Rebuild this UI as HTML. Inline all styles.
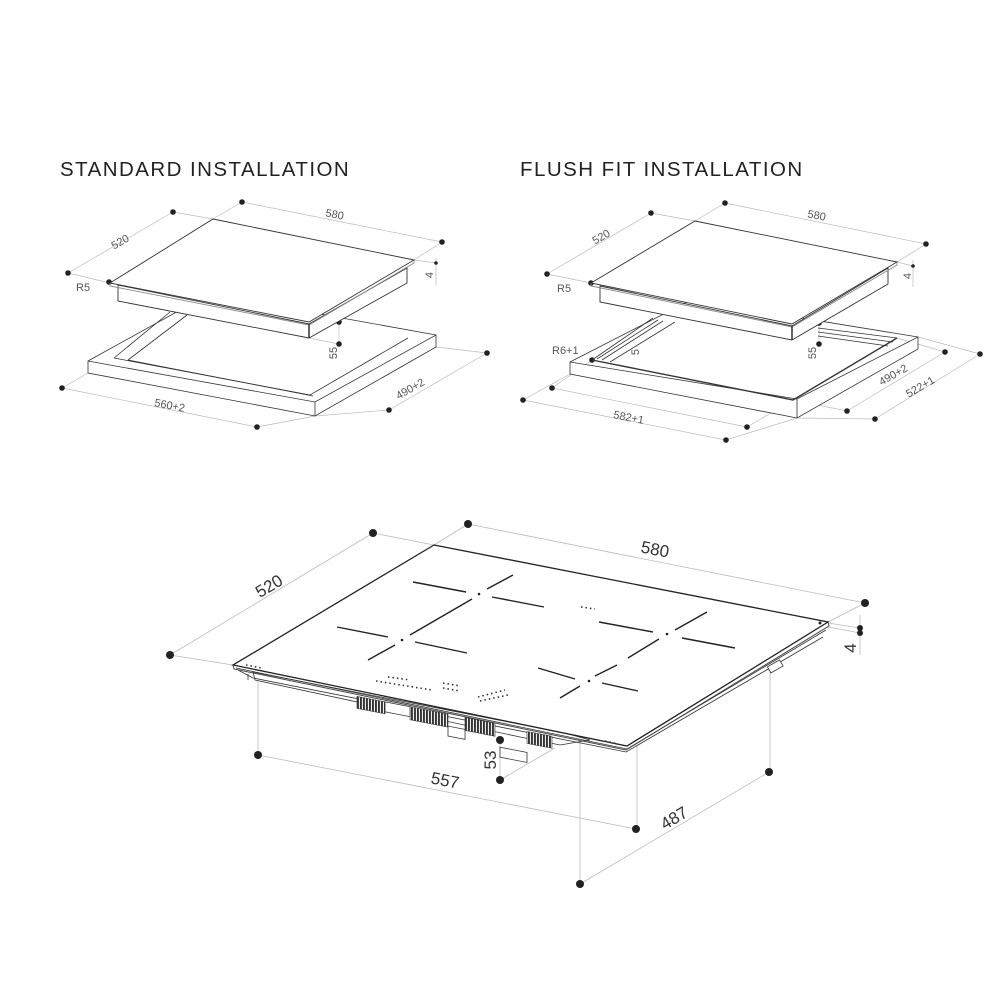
<!DOCTYPE html>
<html><head><meta charset="utf-8"><style>
html,body{margin:0;padding:0;background:#fff;}
svg{display:block;}
.t{font-family:"Liberation Sans",sans-serif;}
</style></head><body>
<svg width="1000" height="1000" viewBox="0 0 1000 1000" xmlns="http://www.w3.org/2000/svg">
<defs>
<pattern id="vent" width="3" height="20" patternUnits="userSpaceOnUse">
<rect width="3" height="20" fill="#fff"/><rect width="2" height="20" fill="#333"/>
</pattern>
</defs>
<rect width="1000" height="1000" fill="#fff"/>
<text x="60" y="176" class="t" font-size="20.5" fill="#222" letter-spacing="1.45">STANDARD INSTALLATION</text>
<text x="520" y="176" class="t" font-size="20.5" fill="#222" letter-spacing="1.45">FLUSH FIT INSTALLATION</text>

<!-- ============ STANDARD ============ -->
<g stroke="#bbb" stroke-width="0.7" fill="none">
<line x1="68" y1="273" x2="173" y2="212"/><line x1="110" y1="283" x2="68" y2="273"/><line x1="213" y1="219" x2="173" y2="212"/>
<line x1="242" y1="202" x2="442" y2="242"/><line x1="213" y1="219" x2="242" y2="202"/><line x1="414" y1="260" x2="442" y2="242"/>
<line x1="414" y1="260" x2="436" y2="263"/><line x1="436" y1="258" x2="436" y2="285"/>
<line x1="62" y1="388" x2="257" y2="427"/><line x1="88" y1="373" x2="62" y2="388"/><line x1="315" y1="416" x2="257" y2="427"/>
<line x1="389" y1="410" x2="487" y2="353"/><line x1="315" y1="416" x2="389" y2="410"/><line x1="436" y1="347" x2="487" y2="353"/>
<line x1="339" y1="322" x2="339" y2="344"/><line x1="309" y1="338" x2="339" y2="344"/>
</g>
<g fill="#222">
<circle cx="68" cy="273" r="2.8"/><circle cx="173" cy="212" r="2.8"/><circle cx="242" cy="202" r="2.8"/><circle cx="442" cy="242" r="2.8"/>
<circle cx="109" cy="282" r="2.8"/><circle cx="436" cy="263" r="1.8"/><circle cx="339" cy="322" r="2.8"/><circle cx="339" cy="344" r="2.8"/>
<circle cx="62" cy="388" r="2.8"/><circle cx="257" cy="427" r="2.8"/><circle cx="389" cy="410" r="2.8"/><circle cx="487" cy="353" r="2.8"/>
</g>
<g stroke="#333" stroke-width="0.8" fill="#fff">
<polygon points="88,361 315,402 436,335 436,347 315,416 88,373"/>
<line x1="88" y1="361" x2="209" y2="294"/><line x1="209" y1="294" x2="436" y2="335"/>
<polyline points="114,358 310,395 408,338" fill="none"/>
<polyline points="128,360 313,396" fill="none"/>
<line x1="114" y1="358" x2="170" y2="312"/><line x1="128" y1="360" x2="187" y2="315"/>
<line x1="315" y1="402" x2="315" y2="416"/>
</g>
<g stroke="#333" stroke-width="0.9" fill="#fff">
<polygon points="118,285 309,324 407,268 407,283 309,338 118,301"/>
<polygon points="213,219 414,260 309,322 110,283"/>
<polyline points="110,283 110,286 309,325 414,263 414,260" fill="none" stroke="#888"/>
<line x1="309" y1="324" x2="309" y2="338" stroke-width="1.5"/>
</g>
<g class="t" font-size="11" fill="#555">
<text x="0" y="0" transform="translate(122,245) rotate(-30)" text-anchor="middle">520</text>
<text x="0" y="0" transform="translate(334,218) rotate(11)" text-anchor="middle">580</text>
<text x="0" y="0" transform="translate(433,275) rotate(-90)" text-anchor="middle">4</text>
<text x="76" y="291">R5</text>
<text x="0" y="0" transform="translate(337,353) rotate(-90)" text-anchor="middle">55</text>
<text x="0" y="0" transform="translate(169,409) rotate(11)" text-anchor="middle">560+2</text>
<text x="0" y="0" transform="translate(412,392) rotate(-30)" text-anchor="middle">490+2</text>
</g>

<!-- ============ FLUSH ============ -->
<g stroke="#bbb" stroke-width="0.7" fill="none">
<line x1="547" y1="274" x2="651" y2="213"/><line x1="591" y1="283" x2="547" y2="274"/><line x1="695" y1="221" x2="651" y2="213"/>
<line x1="725" y1="203" x2="926" y2="244"/><line x1="695" y1="221" x2="725" y2="203"/><line x1="897" y1="262" x2="926" y2="244"/>
<line x1="897" y1="262" x2="913" y2="266"/><line x1="913" y1="260" x2="913" y2="287"/>
<line x1="523" y1="400" x2="726" y2="440"/><line x1="570" y1="374" x2="523" y2="400"/><line x1="797" y1="418" x2="726" y2="440"/>
<line x1="552" y1="388" x2="747" y2="427"/><line x1="592" y1="360" x2="552" y2="388"/><line x1="793" y1="400" x2="747" y2="427"/>
<line x1="847" y1="411" x2="945" y2="352"/><line x1="793" y1="400" x2="847" y2="411"/><line x1="897" y1="338" x2="945" y2="352"/>
<line x1="875" y1="419" x2="980" y2="354"/><line x1="797" y1="418" x2="875" y2="419"/><line x1="918" y1="337" x2="980" y2="354"/>
<line x1="819" y1="323" x2="819" y2="344"/>
</g>
<g fill="#222">
<circle cx="547" cy="274" r="2.8"/><circle cx="651" cy="213" r="2.8"/><circle cx="725" cy="203" r="2.8"/><circle cx="926" cy="244" r="2.8"/>
<circle cx="591" cy="283" r="2.8"/><circle cx="913" cy="266" r="1.8"/><circle cx="819" cy="323" r="2.8"/><circle cx="819" cy="344" r="2.8"/>
<circle cx="592" cy="360" r="2.8"/>
<circle cx="523" cy="400" r="2.8"/><circle cx="726" cy="440" r="2.8"/><circle cx="552" cy="388" r="2.8"/><circle cx="747" cy="427" r="2.8"/>
<circle cx="847" cy="411" r="2.8"/><circle cx="945" cy="352" r="2.8"/><circle cx="875" cy="419" r="2.8"/><circle cx="980" cy="354" r="2.8"/>
</g>
<g stroke="#333" stroke-width="0.8" fill="#fff">
<polygon points="570,362 797,399 918,337 918,349 797,418 570,374"/>
<line x1="570" y1="362" x2="691" y2="300"/><line x1="691" y1="300" x2="918" y2="337"/>
<line x1="797" y1="399" x2="797" y2="418"/>
<polyline points="592,360 793,400 897,338" fill="none" stroke-width="1.4"/>
<line x1="592" y1="360" x2="653" y2="318"/><line x1="597" y1="359" x2="658" y2="320"/><line x1="602" y1="360" x2="663" y2="321"/><line x1="610" y1="362" x2="675" y2="322"/>
<line x1="818" y1="328" x2="897" y2="338"/><line x1="818" y1="332" x2="893" y2="342"/><line x1="818" y1="336" x2="888" y2="346"/>
</g>
<g stroke="#333" stroke-width="0.9" fill="#fff">
<polygon points="600,286 792,326 888,268 888,284 792,340 600,302"/>
<polygon points="695,221 897,262 792,324 591,283"/>
<polyline points="591,283 591,286 792,327 897,265 897,262" fill="none" stroke="#888"/>
<line x1="792" y1="326" x2="792" y2="340" stroke-width="1.5"/>
</g>
<g class="t" font-size="11" fill="#555">
<text x="0" y="0" transform="translate(603,240) rotate(-30)" text-anchor="middle">520</text>
<text x="0" y="0" transform="translate(816,219) rotate(11)" text-anchor="middle">580</text>
<text x="0" y="0" transform="translate(911,276) rotate(-90)" text-anchor="middle">4</text>
<text x="557" y="292">R5</text>
<text x="552" y="354">R6+1</text>
<text x="0" y="0" transform="translate(639,352) rotate(-90)" text-anchor="middle">5</text>
<text x="0" y="0" transform="translate(816,353) rotate(-90)" text-anchor="middle">55</text>
<text x="0" y="0" transform="translate(628,421) rotate(11)" text-anchor="middle">582+1</text>
<text x="0" y="0" transform="translate(895,378) rotate(-30)" text-anchor="middle">490+2</text>
<text x="0" y="0" transform="translate(922,390) rotate(-30)" text-anchor="middle">522+1</text>
</g>

<!-- ============ BIG HOB ============ -->
<g stroke="#bbb" stroke-width="0.8" fill="none">
<line x1="170" y1="655" x2="373" y2="533"/><line x1="233" y1="665" x2="170" y2="655"/><line x1="434" y1="545" x2="373" y2="533"/>
<line x1="468" y1="524" x2="865" y2="603"/><line x1="434" y1="545" x2="468" y2="524"/><line x1="828" y1="622" x2="865" y2="603"/>
<line x1="828" y1="623" x2="860" y2="628"/><line x1="828" y1="627" x2="860" y2="633"/><line x1="860" y1="615" x2="860" y2="655"/>
<line x1="258" y1="676" x2="258" y2="755"/><line x1="258" y1="755" x2="636" y2="829"/><line x1="637" y1="745" x2="637" y2="829"/>
<line x1="580" y1="740" x2="580" y2="884"/><line x1="580" y1="884" x2="769" y2="772"/><line x1="770" y1="668" x2="770" y2="772"/>
<line x1="500" y1="740" x2="500" y2="780"/><line x1="500" y1="780" x2="555" y2="748"/>
</g>
<g fill="#222">
<circle cx="373" cy="533" r="4"/><circle cx="170" cy="655" r="4"/><circle cx="468" cy="524" r="4"/><circle cx="865" cy="603" r="4"/>
<circle cx="860" cy="628" r="3"/><circle cx="860" cy="633" r="3"/>
<circle cx="258" cy="755" r="4"/><circle cx="636" cy="829" r="4"/><circle cx="769" cy="772" r="4"/><circle cx="580" cy="884" r="4"/>
<circle cx="500" cy="740" r="4"/><circle cx="500" cy="780" r="4"/>
</g>
<g stroke="#333" stroke-width="0.8" fill="#fff">
<polygon points="253,672 565,733 590,740 560,745 520,737 255,680"/>
<polyline points="238,670 253,678 626,752 823,637" fill="none"/>
<polyline points="236,668 627,749 826,630" fill="none"/>
<line x1="248" y1="674" x2="248" y2="680"/>
</g>
<g fill="url(#vent)" stroke="#333" stroke-width="0.6">
<rect x="357" y="697" width="28" height="12" transform="skewY(11) translate(0,-70)"/>
<rect x="410" y="707" width="38" height="13" transform="skewY(11) translate(0,-80)"/>
<rect x="465" y="718" width="30" height="13" transform="skewY(11) translate(0,-91)"/>
<rect x="527" y="733" width="25" height="12" transform="skewY(11) translate(0,-104)"/>
</g>
<g stroke="#333" stroke-width="0.8" fill="#fff">
<rect x="385" y="627" width="25" height="10" transform="skewY(11)"/>
<rect x="448" y="639" width="17" height="10" transform="skewY(11)"/>
<rect x="500" y="650" width="27" height="10" transform="skewY(11)"/>
<rect x="655" y="600" width="14" height="7" transform="rotate(-30 662 603)"/>
<rect x="768" y="663" width="14" height="7" transform="rotate(-30 775 666)"/>
</g>
<polygon points="434,545 828,622 627,746 233,665" fill="#fff" stroke="#222" stroke-width="1.3"/>
<polyline points="233,665 234,669 626,750 829,626 828,622" fill="none" stroke="#444" stroke-width="1"/>
<g stroke="#222" stroke-width="1.4" fill="none">
<line x1="413" y1="582" x2="466" y2="592"/><line x1="492" y1="597" x2="544" y2="607"/><line x1="487" y1="589" x2="513" y2="575"/><line x1="410" y1="635" x2="472" y2="599"/>
<line x1="337" y1="627" x2="388" y2="637"/><line x1="415" y1="642" x2="467" y2="653"/><line x1="368" y1="660" x2="395" y2="645"/>
<line x1="599" y1="622" x2="653" y2="632"/><line x1="682" y1="638" x2="735" y2="648"/><line x1="675" y1="630" x2="707" y2="612"/><line x1="628" y1="658" x2="659" y2="639"/>
<line x1="538" y1="668" x2="575" y2="679"/><line x1="602" y1="683" x2="638" y2="691"/><line x1="560" y1="698" x2="580" y2="686"/><line x1="595" y1="676" x2="617" y2="665"/>
</g>
<g fill="#222">
<circle cx="479" cy="594" r="1.3"/><circle cx="402" cy="640" r="1.3"/><circle cx="667" cy="634" r="1.3"/><circle cx="589" cy="681" r="1.3"/>
<circle cx="820" cy="623" r="1.5"/>
</g>
<g stroke="#333" stroke-width="1.6" stroke-dasharray="1.5 3" fill="none">
<line x1="376" y1="681" x2="432" y2="690"/>
<line x1="388" y1="677" x2="410" y2="680"/>
<line x1="443" y1="683" x2="460" y2="686"/><line x1="443" y1="688" x2="460" y2="691"/>
<line x1="478" y1="697" x2="505" y2="690"/><line x1="480" y1="701" x2="508" y2="695"/>
<line x1="581" y1="607" x2="595" y2="609"/><line x1="246" y1="665" x2="262" y2="668"/><line x1="605" y1="741" x2="618" y2="744"/>
</g>
<g class="t" font-size="17" fill="#333">
<text x="0" y="0" transform="translate(654,555) rotate(11)" text-anchor="middle">580</text>
<text x="0" y="0" transform="translate(272,591) rotate(-31)" text-anchor="middle">520</text>
<text x="0" y="0" transform="translate(856,648) rotate(-90)" text-anchor="middle">4</text>
<text x="0" y="0" transform="translate(496,760) rotate(-90)" text-anchor="middle">53</text>
<text x="0" y="0" transform="translate(444,786) rotate(11)" text-anchor="middle">557</text>
<text x="0" y="0" transform="translate(677,823) rotate(-31)" text-anchor="middle">487</text>
</g>
</svg>
</body></html>
